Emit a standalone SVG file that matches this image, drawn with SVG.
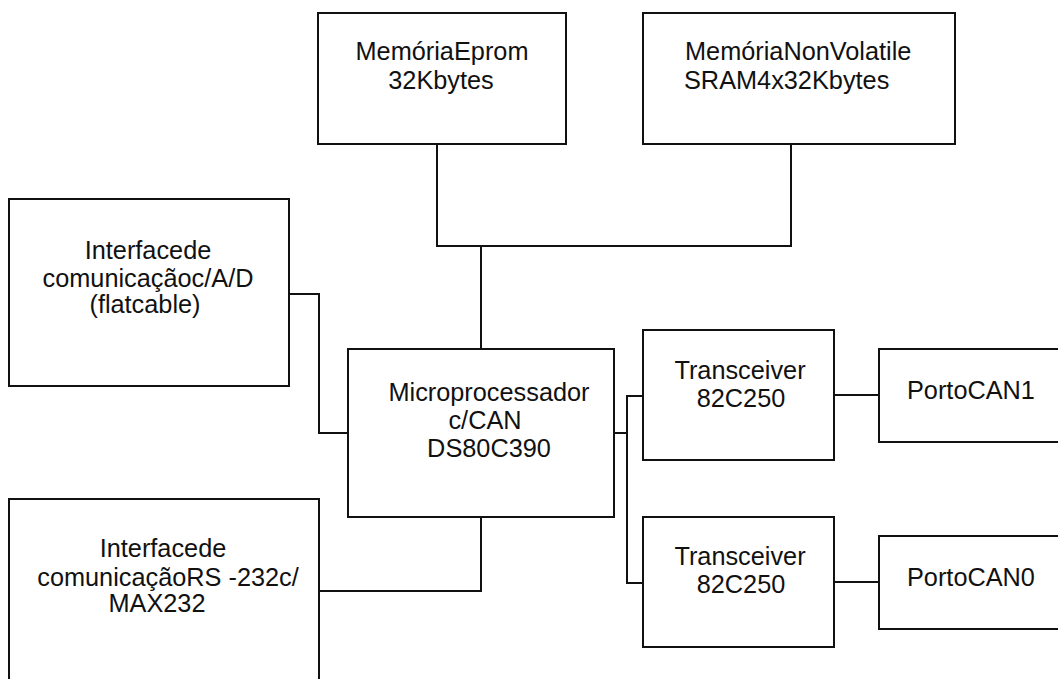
<svg xmlns="http://www.w3.org/2000/svg" width="1058" height="679" viewBox="0 0 1058 679">
  <style>
    .box { fill: #ffffff; stroke: #111111; stroke-width: 2; }
    .wire { fill: none; stroke: #111111; stroke-width: 2; }
    .lbl { font-family: "Liberation Sans", Arial, sans-serif; font-size: 25.3px; fill: #111111; text-anchor: middle; }
  </style>
  <rect width="1058" height="679" fill="#ffffff"/>

  <!-- bus and point-to-point wiring -->
  <g id="connectors">
    <polyline class="wire" points="437,144 437,246 791,246 791,144"/>
    <line class="wire" x1="481" y1="246" x2="481" y2="349"/>
    <polyline class="wire" points="289,294 319,294 319,433 348,433"/>
    <polyline class="wire" points="319,591 481,591 481,517"/>
    <line class="wire" x1="611" y1="433" x2="627" y2="433"/>
    <polyline class="wire" points="643,396 627,396 627,583 643,583"/>
    <line class="wire" x1="834" y1="395" x2="879" y2="395"/>
    <line class="wire" x1="834" y1="582" x2="879" y2="582"/>
  </g>

  <g id="eprom">
    <rect class="box" x="318" y="13" width="248" height="131"/>
    <text class="lbl" x="442" y="60">MemóriaEprom</text>
    <text class="lbl" x="441" y="89">32Kbytes</text>
  </g>

  <g id="sram">
    <rect class="box" x="643" y="13" width="312" height="131"/>
    <text class="lbl" x="685" y="60" style="text-anchor:start">MemóriaNonVolatile</text>
    <text class="lbl" x="684" y="89" style="text-anchor:start">SRAM4x32Kbytes</text>
  </g>

  <g id="ad-interface">
    <rect class="box" x="9" y="199" width="280" height="187"/>
    <text class="lbl" x="148" y="259">Interfacede</text>
    <text class="lbl" x="148" y="287">comunicaçãoc/A/D</text>
    <text class="lbl" x="145" y="313">(flatcable)</text>
  </g>

  <g id="rs232-interface">
    <rect class="box" x="9" y="499" width="310" height="200"/>
    <text class="lbl" x="163" y="557">Interfacede</text>
    <text class="lbl" x="168" y="586">comunicaçãoRS -232c/</text>
    <text class="lbl" x="157" y="612">MAX232</text>
  </g>

  <g id="microprocessor">
    <rect class="box" x="348" y="349" width="266" height="168"/>
    <text class="lbl" x="489" y="401">Microprocessador</text>
    <text class="lbl" x="485" y="429">c/CAN</text>
    <text class="lbl" x="489" y="457">DS80C390</text>
  </g>

  <g id="transceiver1">
    <rect class="box" x="643" y="330" width="191" height="130"/>
    <text class="lbl" x="740" y="379">Transceiver</text>
    <text class="lbl" x="741" y="407">82C250</text>
  </g>

  <g id="transceiver0">
    <rect class="box" x="643" y="517" width="191" height="130"/>
    <text class="lbl" x="740" y="565">Transceiver</text>
    <text class="lbl" x="741" y="593">82C250</text>
  </g>

  <g id="port-can1">
    <rect class="box" x="879" y="349" width="200" height="93"/>
    <text class="lbl" x="907" y="399" style="text-anchor:start">PortoCAN1</text>
  </g>

  <g id="port-can0">
    <rect class="box" x="879" y="536" width="200" height="93"/>
    <text class="lbl" x="907" y="586" style="text-anchor:start">PortoCAN0</text>
  </g>
</svg>
